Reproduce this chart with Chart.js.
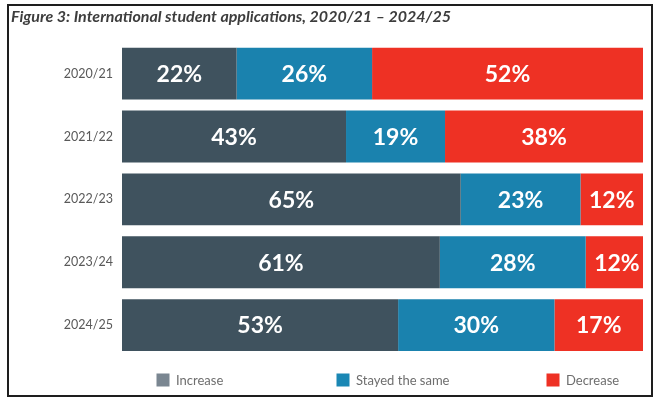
<!DOCTYPE html>
<html>
<head>
<meta charset="utf-8">
<script src="https://cdn.jsdelivr.net/npm/chart.js@4/dist/chart.umd.min.js"></script>
<style>
  html, body { margin: 0; padding: 0; background: #ffffff; }
  #wrap { position: relative; width: 660px; height: 404px; }
</style>
</head>
<body>
<div id="wrap"><canvas id="c" width="660" height="404"></canvas></div>
<script>
const categories = ["2020/21", "2021/22", "2022/23", "2023/24", "2024/25"];
const seriesNames = ["Increase", "Stayed the same", "Decrease"];
const increaseValues = [22, 43, 65, 61, 53];
const sameValues = [26, 19, 23, 28, 30];
const decreaseValues = [52, 38, 12, 12, 17];
const barColors = ["#3f525e", "#1a82ae", "#ee3124"];
const legendColors = ["#7a8691", "#1a87b4", "#ee3124"];
const legendX = [163, 343, 553];

const frame = {
  id: "frame",
  beforeDraw(chart) {
    const ctx = chart.ctx;
    ctx.save();
    ctx.fillStyle = "#ffffff";
    ctx.fillRect(0, 0, chart.width, chart.height);
    ctx.strokeStyle = "#1e1e1e";
    ctx.lineWidth = 2;
    ctx.strokeRect(8, 5, 644, 391);
    ctx.restore();
  }
};

const valueLabels = {
  id: "valueLabels",
  afterDatasetsDraw(chart) {
    const ctx = chart.ctx;
    ctx.save();
    ctx.fillStyle = "#ffffff";
    ctx.font = "bold 23px Lato, 'Open Sans', sans-serif";
    ctx.textAlign = "center";
    ctx.textBaseline = "middle";
    chart.data.datasets.forEach((ds, i) => {
      const meta = chart.getDatasetMeta(i);
      meta.data.forEach((bar, j) => {
        const v = ds.data[j];
        const cx = (bar.x + bar.base) / 2;
        ctx.fillText(v + "%", cx, bar.y + 1);
      });
    });
    ctx.restore();
  }
};

const customLegend = {
  id: "customLegend",
  afterDraw(chart) {
    const ctx = chart.ctx;
    const y = 380;
    ctx.save();
    ctx.font = "13px Lato, 'Open Sans', sans-serif";
    ctx.textBaseline = "middle";
    ctx.textAlign = "left";
    chart.data.datasets.forEach((ds, i) => {
      const x = legendX[i];
      ctx.fillStyle = legendColors[i];
      ctx.fillRect(x - 6.5, y - 6.5, 13, 13);
      ctx.fillStyle = "#6e6e6e";
      ctx.fillText(ds.label, x + 13, y + 1);
    });
    ctx.restore();
  }
};

const datasets = [increaseValues, sameValues, decreaseValues].map((vals, i) => ({
  label: seriesNames[i],
  data: vals,
  backgroundColor: barColors[i],
  borderWidth: 0,
  categoryPercentage: 1,
  barPercentage: 0.825
}));

new Chart(document.getElementById("c"), {
  type: "bar",
  data: { labels: categories, datasets },
  options: {
    indexAxis: "y",
    responsive: false,
    animation: false,
    layout: { padding: { left: 11, right: 17, top: 6, bottom: 47.5 } },
    plugins: {
      legend: { display: false },
      tooltip: { enabled: false },
      title: {
        display: true,
        text: "Figure 3: International student applications, 2020/21 \u2013 2024/25",
        align: "start",
        color: "#3d3d3d",
        font: { family: "Lato, 'Open Sans', sans-serif", size: 16, style: "italic", weight: "bold" },
        padding: { top: 1, bottom: 16 }
      }
    },
    scales: {
      x: { stacked: true, display: false, min: 0, max: 100 },
      y: {
        stacked: true,
        grid: { display: false, drawTicks: false },
        border: { display: false },
        ticks: {
          color: "#595959",
          padding: 9,
          font: { family: "Lato, 'Open Sans', sans-serif", size: 12.5 }
        },
        afterFit(scale) { scale.width = 111; }
      }
    }
  },
  plugins: [frame, valueLabels, customLegend]
});
</script>
</body>
</html>
